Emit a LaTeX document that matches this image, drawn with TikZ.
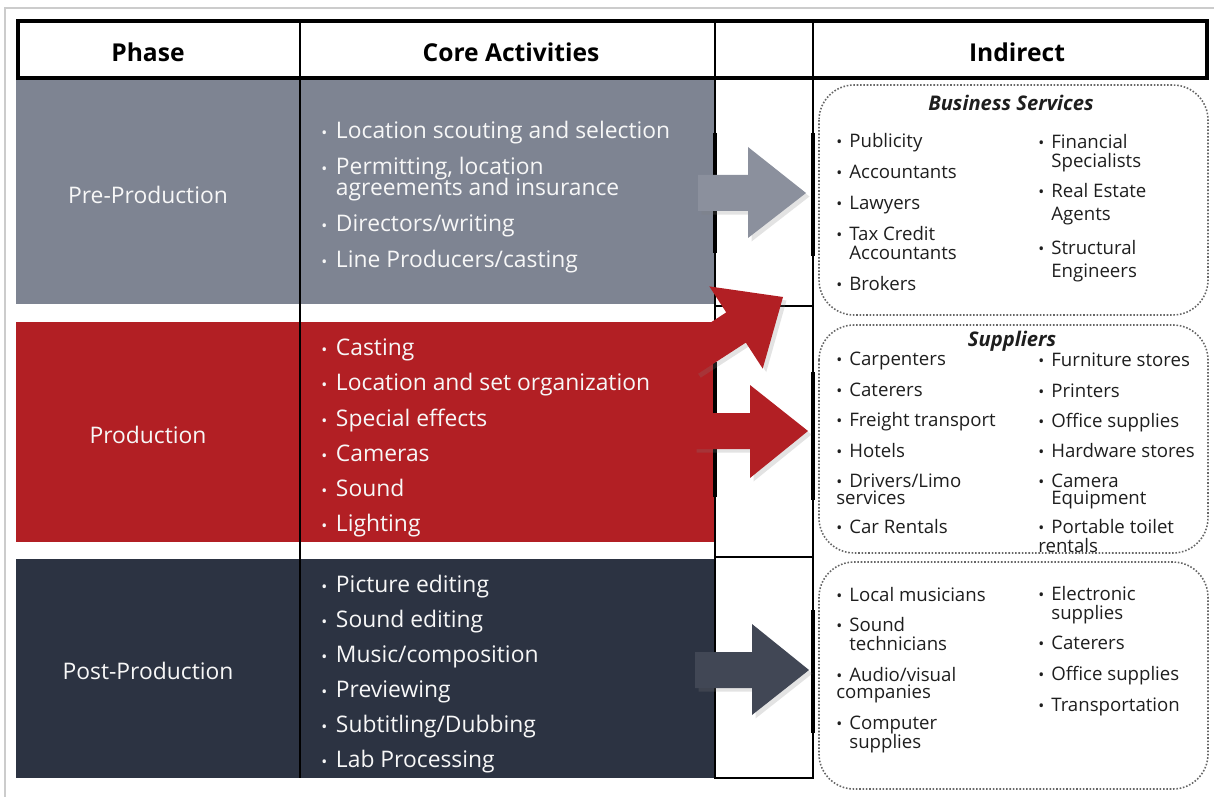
\documentclass[tikz,border=0pt]{standalone}
\usepackage{fontspec}
\setmainfont{Open Sans}
\usetikzlibrary{shadows}

\definecolor{pregray}{RGB}{126,132,146}
\definecolor{prodred}{RGB}{178,31,36}
\definecolor{postnavy}{RGB}{44,51,66}
\definecolor{inktext}{RGB}{30,30,30}

\newcommand{\dotitem}{{\small\textbullet}\hspace{0.38em}}
\newcommand{\hang}{\phantom{\dotitem}}
\newcommand{\tightlines}{\setlength{\lineskiplimit}{-20pt}}

\tikzset{
    rule/.style={line width=1pt},
    slot/.style={line width=2.4pt},
    headtext/.style={font=\fontsize{14}{16}\selectfont\bfseries},
    phasetext/.style={text=black!3, font=\fontsize{13}{14}\selectfont},
    corelist/.style={text=black!3, align=left, anchor=west, inner sep=0pt,
        font=\fontsize{13}{11.9}\selectfont\tightlines},
    indlist/.style={text=inktext, align=left, anchor=west, inner sep=0pt,
        font=\fontsize{10.6}{10.8}\selectfont\tightlines},
    boxtitle/.style={text=inktext, font=\fontsize{11.5}{12}\selectfont\bfseries\itshape},
    dotbox/.style={draw=black!60, densely dotted, line width=0.9pt, rounded corners=20pt},
    fatarrow/.style={drop shadow={opacity=0.22, shadow xshift=2pt, shadow yshift=-2pt}},
}

\begin{document}
\begin{tikzpicture}[x=0.02cm, y=-0.02cm]
    \useasboundingbox (0,0) rectangle (1214,797);

    % Frame
    \draw [black!20, line width=0.6pt] (5,797) -- (5,8) -- (1214,8);

    % Phase bands
    \fill [pregray] (16,80) rectangle (715,304);
    \fill [prodred] (16,322) rectangle (715,542);
    \fill [postnavy] (16,559) rectangle (715,778);

    % Grid
    \draw [rule] (300,78) -- (300,778);
    \draw [rule] (715,78) -- (715,778) -- (813,778) -- (813,78);
    \draw [rule] (715,306) -- (813,306);
    \draw [rule] (715,557) -- (813,557);
    \draw [slot] (715,133) -- (715,253);
    \draw [slot] (715,362) -- (715,497);
    \draw [slot] (813,133) -- (813,256);
    \draw [slot] (813,372) -- (813,500);
    \draw [slot] (813,610) -- (813,733);

    % Header
    \draw [line width=2.2pt] (18,21) rectangle (1207,78);
    \draw [rule] (300,21) -- (300,78);
    \draw [rule] (715,21) -- (715,78);
    \draw [rule] (813,21) -- (813,78);
    \node [headtext] (hdphase) at (148,52) {Phase};
    \node [headtext] (hdcore) at (511,52) {Core Activities};
    \node [headtext] (hdindirect) at (1017,52) {Indirect};

    % Indirect groups
    \draw [dotbox] (819,85) rectangle (1208,315);
    \draw [dotbox] (819,325) rectangle (1208,553);
    \draw [dotbox] (819,562) rectangle (1208,789);

    % Arrows
    \fill [pregray!90!white, fatarrow] (698,175) -- (748,175) -- (748,147) -- (806,193)
        -- (748,238) -- (748,211) -- (698,211) -- cycle;
    \fill [prodred, fatarrow, rotate around={33:(783,297)}] (669,279) -- (727,279)
        -- (727,248) -- (783,297) -- (727,346) -- (727,315) -- (669,315) -- cycle;
    \fill [prodred, fatarrow] (693,413) -- (750,413) -- (750,385) -- (808,431)
        -- (750,478) -- (750,449) -- (693,449) -- cycle;
    \fill [postnavy!90!white, fatarrow] (695,652) -- (752,652) -- (752,624) -- (809,670)
        -- (752,715) -- (752,688) -- (695,688) -- cycle;

    % Phases
    \node [phasetext] (prelabel) at (148,195) {Pre-Production};
    \node [phasetext] (prodlabel) at (148,435) {Production};
    \node [phasetext] (postlabel) at (148,671) {Post-Production};

    % Core activities
    \node [corelist] (preitems) at (321,197) {\dotitem Location scouting and selection\\[8.6pt]
        \dotitem Permitting, location\\ \hang agreements and insurance\\[8.6pt]
        \dotitem Directors/writing\\[8.3pt] \dotitem Line Producers/casting};
    \node [corelist] (proditems) at (321,438) {\dotitem Casting\\[8.1pt]
        \dotitem Location and set organization\\[8.1pt] \dotitem Special effects\\[8.1pt]
        \dotitem Cameras\\[8.1pt] \dotitem Sound\\[8.1pt] \dotitem Lighting};
    \node [corelist] (postitems) at (321,674) {\dotitem Picture editing\\[8.1pt]
        \dotitem Sound editing\\[8.1pt] \dotitem Music/composition\\[8.1pt]
        \dotitem Previewing\\[8.1pt] \dotitem Subtitling/Dubbing\\[8.1pt] \dotitem Lab Processing};

    % Business services
    \node [boxtitle] (bstitle) at (1011,103) {Business Services};
    \node [indlist] (bsleft) at (836,212) {\dotitem Publicity\\[6.8pt] \dotitem Accountants\\[6.8pt]
        \dotitem Lawyers\\[6.8pt] \dotitem Tax Credit\\ \hang Accountants\\[6.8pt] \dotitem Brokers};
    \node [indlist] (bsright) at (1038,208) {\dotitem Financial\\ \hang Specialists\\[6.8pt]
        \dotitem Real Estate\\[2.2pt] \hang Agents\\[8.5pt] \dotitem Structural\\[2.2pt] \hang Engineers};

    % Suppliers
    \node [boxtitle] (suptitle) at (1012,341) {Suppliers};
    \node [indlist] (supleft) at (836,443) {\dotitem Carpenters\\[6.6pt] \dotitem Caterers\\[6.6pt]
        \dotitem Freight transport\\[6.6pt] \dotitem Hotels\\[6.6pt] \dotitem Drivers/Limo\\[-1.2pt]
        services\\[5.8pt] \dotitem Car Rentals};
    \node [indlist] (supright) at (1038,453) {\dotitem Furniture stores\\[6.4pt] \dotitem Printers\\[6.4pt]
        \dotitem Office supplies\\[6.4pt] \dotitem Hardware stores\\[6.4pt] \dotitem Camera\\[-1.2pt]
        \hang Equipment\\[5.8pt] \dotitem Portable toilet\\ rentals};

    % Post-production services
    \node [indlist] (musleft) at (836,670) {\dotitem Local musicians\\[6.8pt] \dotitem Sound\\
        \hang technicians\\[6.8pt] \dotitem Audio/visual\\[-1.2pt] companies\\[6.8pt]
        \dotitem Computer\\ \hang supplies};
    \node [indlist] (musright) at (1038,651) {\dotitem Electronic\\ \hang supplies\\[6.2pt]
        \dotitem Caterers\\[6.8pt] \dotitem Office supplies\\[6.8pt] \dotitem Transportation};
\end{tikzpicture}
\end{document}
